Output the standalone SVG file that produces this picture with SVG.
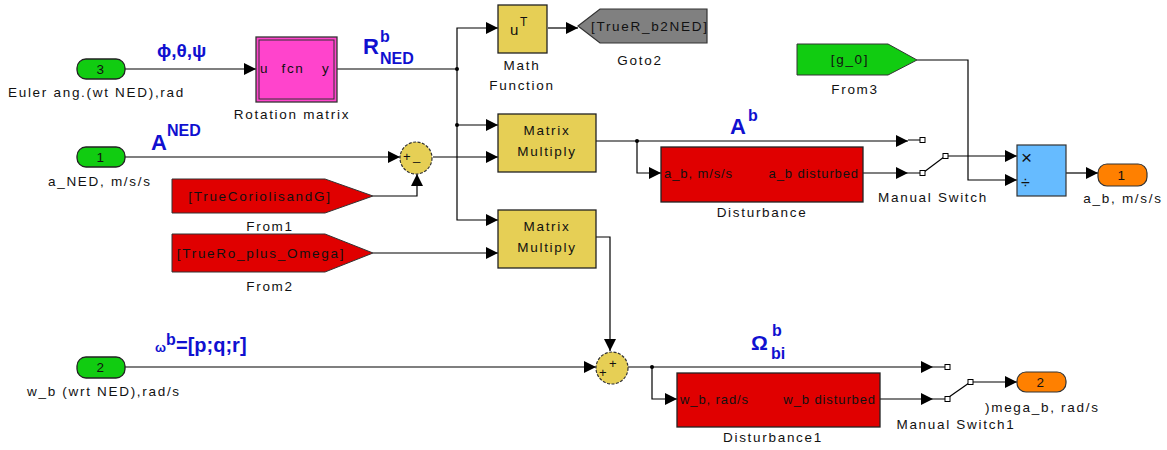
<svg xmlns="http://www.w3.org/2000/svg" width="1167" height="450" viewBox="0 0 1167 450">
<style>
.t{font-family:"Liberation Sans",Arial,sans-serif;font-size:13.5px;letter-spacing:1.7px;fill:#111}
.c{text-anchor:middle}
.b{font-family:"Liberation Sans",Arial,sans-serif;font-weight:bold;fill:#1010d0}
.w{fill:none;stroke:#000;stroke-width:1.2}
.blk{stroke:#222;stroke-width:1.3}
.y{fill:#e6cf55}
.r{fill:#e00000}
.g{fill:#11cc11}
.sum{fill:#e6cf55;stroke:#333;stroke-width:1.2;stroke-dasharray:3 1.5}
.sq{fill:#fff;stroke:#000;stroke-width:1}
.s{font-family:"Liberation Sans",Arial,sans-serif;font-size:13px;letter-spacing:0.9px;fill:#111}
</style>
<defs>
<marker id="a" markerUnits="userSpaceOnUse" markerWidth="13" markerHeight="12" refX="12" refY="6" orient="auto">
<path d="M0,0 L12,6 L0,12 z" fill="#000"/>
</marker>
</defs>
<rect width="1167" height="450" fill="#fff"/>

<g id="connectors">
<path class="w" d="M125,69 H256" marker-end="url(#a)"/>
<path class="w" d="M337,69 H457 V28 H498" marker-end="url(#a)"/>
<path class="w" d="M457,69 V220 H498" marker-end="url(#a)"/>
<path class="w" d="M457,125 H498" marker-end="url(#a)"/>
<circle cx="457" cy="69" r="2" fill="#000"/>
<circle cx="457" cy="125" r="2" fill="#000"/>
<path class="w" d="M548,28 H578" marker-end="url(#a)"/>
<path class="w" d="M125,157 H400" marker-end="url(#a)"/>
<path class="w" d="M433,157 H498" marker-end="url(#a)"/>
<path class="w" d="M373,196 H417 V174" marker-end="url(#a)"/>
<path class="w" d="M373,253 H498" marker-end="url(#a)"/>
<path class="w" d="M596,141 H908" marker-end="url(#a)"/>
<path class="w" d="M637,141 V173 H661" marker-end="url(#a)"/>
<circle cx="637" cy="141" r="2" fill="#000"/>
<path class="w" d="M863,173 H908" marker-end="url(#a)"/>
<path class="w" d="M908,140 H920 M908,173 H920"/>
<path class="w" d="M924,172 L944,157"/>
<path class="w" d="M948,156 H1017" marker-end="url(#a)"/>
<path class="w" d="M917,60 H968 V180 H1017" marker-end="url(#a)"/>
<path class="w" d="M1066,173 H1098" marker-end="url(#a)"/>
<path class="w" d="M596,237 H610 V351" marker-end="url(#a)"/>
<path class="w" d="M125,367 H596" marker-end="url(#a)"/>
<path class="w" d="M628,367 H933" marker-end="url(#a)"/>
<path class="w" d="M652,367 V399 H677" marker-end="url(#a)"/>
<circle cx="652" cy="367" r="2" fill="#000"/>
<path class="w" d="M880,399 H933" marker-end="url(#a)"/>
<path class="w" d="M933,367 H945 M933,399 H945"/>
<path class="w" d="M949,397 L969,383"/>
<path class="w" d="M973,382 H1017" marker-end="url(#a)"/>
<rect class="sq" x="920" y="137.5" width="5" height="5"/>
<rect class="sq" x="920" y="170.5" width="5" height="5"/>
<rect class="sq" x="943" y="153.5" width="5" height="5"/>
<rect class="sq" x="945" y="364.5" width="5" height="5"/>
<rect class="sq" x="945" y="396.5" width="5" height="5"/>
<rect class="sq" x="968" y="379.5" width="5" height="5"/>
</g>

<g id="labels">
<text class="b" x="157" y="57" font-size="19">ϕ,θ,ψ</text>
<text class="b" x="363" y="54" font-size="22">R</text>
<text class="b" x="380" y="42" font-size="16">b</text>
<text class="b" x="380" y="64" font-size="16">NED</text>
<text class="b" x="151" y="150" font-size="22">A</text>
<text class="b" x="167" y="136" font-size="16">NED</text>
<text class="b" x="730" y="134" font-size="22">A</text>
<text class="b" x="748" y="121" font-size="16">b</text>
<text class="b" x="155" y="352" font-size="13">ω</text>
<text class="b" x="166" y="345" font-size="16">b</text>
<text class="b" x="176" y="352" font-size="20">=[p;q;r]</text>
<text class="b" x="751" y="350" font-size="21">Ω</text>
<text class="b" x="772" y="336" font-size="16">b</text>
<text class="b" x="771" y="359" font-size="16">bi</text>
</g>

<g id="in3">
<rect class="g blk" x="77" y="59" width="48" height="20" rx="9"/>
<text class="t c" x="101" y="74" letter-spacing="0">3</text>
<text class="t" x="8" y="97">Euler ang.(wt NED),rad</text>
</g>
<g id="in1">
<rect class="g blk" x="77" y="147" width="48" height="20" rx="9"/>
<text class="t c" x="101" y="162" letter-spacing="0">1</text>
<text class="t" x="48" y="186">a_NED, m/s/s</text>
</g>
<g id="in2">
<rect class="g blk" x="77" y="357" width="48" height="21" rx="9"/>
<text class="t c" x="101" y="372" letter-spacing="0">2</text>
<text class="t" x="27" y="396" letter-spacing="0.6">w_b  (wrt NED),rad/s</text>
</g>

<g id="rotation">
<rect x="256" y="37" width="81" height="65" fill="#ff44cc" stroke="#333" stroke-width="1.3"/>
<rect x="259" y="40" width="75" height="59" fill="none" stroke="#333" stroke-width="1"/>
<text class="t" x="260" y="73" letter-spacing="0">u</text>
<text class="t c" x="293" y="73" letter-spacing="0.5">fcn</text>
<text class="t" x="322" y="73" letter-spacing="0">y</text>
<text class="t c" x="292" y="119">Rotation matrix</text>
</g>

<g id="mathfn">
<rect class="y blk" x="498" y="5" width="49" height="48"/>
<text x="510" y="35" font-family="Liberation Sans,Arial,sans-serif" font-size="15" fill="#111">u</text>
<text x="520" y="26" font-family="Liberation Sans,Arial,sans-serif" font-size="12" fill="#111">T</text>
<text class="t c" x="522" y="70">Math</text>
<text class="t c" x="522" y="90">Function</text>
</g>

<g id="goto2">
<path d="M578,26 L600,9 H707 V43 H600 Z" fill="#808080" stroke="#333" stroke-width="1.2"/>
<text class="t" x="591" y="31" letter-spacing="1.3">[TrueR_b2NED]</text>
<text class="t c" x="640" y="65">Goto2</text>
</g>

<g id="sum1">
<circle class="sum" cx="416" cy="158" r="16"/>
<text x="403" y="161" font-family="Liberation Sans,Arial,sans-serif" font-size="13" fill="#111">+</text>
<text x="413" y="160" font-family="Liberation Sans,Arial,sans-serif" font-size="13" fill="#111">_</text>
</g>

<g id="from1">
<path class="r" d="M172,179 H325 L373,196 L325,213 H172 Z" stroke="#333" stroke-width="1"/>
<text class="t c" x="260" y="201" fill="#300">[TrueCoriolisandG]</text>
<text class="t c" x="270" y="231">From1</text>
</g>
<g id="from2">
<path class="r" d="M172,234 H325 L373,253 L325,272 H172 Z" stroke="#333" stroke-width="1"/>
<text class="t c" x="261" y="258" fill="#300">[TrueRo_plus_Omega]</text>
<text class="t c" x="270" y="291">From2</text>
</g>

<g id="mm1">
<rect class="y blk" x="498" y="114" width="98" height="58"/>
<text class="t c" x="547" y="135" font-size="14">Matrix</text>
<text class="t c" x="547" y="156" font-size="14">Multiply</text>
</g>
<g id="mm2">
<rect class="y blk" x="498" y="210" width="98" height="58"/>
<text class="t c" x="547" y="231" font-size="14">Matrix</text>
<text class="t c" x="547" y="252" font-size="14">Multiply</text>
</g>

<g id="disturbance">
<rect class="r blk" x="661" y="147" width="202" height="55"/>
<text class="s" x="664" y="178">a_b, m/s/s</text>
<text class="s" x="859" y="178" text-anchor="end">a_b disturbed</text>
<text class="t c" x="762" y="217">Disturbance</text>
</g>

<g id="switch1">
<text class="t c" x="933" y="202">Manual Switch</text>
</g>

<g id="from3">
<path class="g" d="M797,44 H888 L917,60 L888,75 H797 Z" stroke="#333" stroke-width="1"/>
<text class="t c" x="850" y="64">[g_0]</text>
<text class="t c" x="855" y="94">From3</text>
</g>

<g id="product">
<rect x="1017" y="145" width="49" height="51" fill="#66bbff" stroke="#333" stroke-width="1.2"/>
<text x="1021" y="164" font-family="Liberation Sans,Arial,sans-serif" font-size="19" fill="#111">×</text>
<text x="1021" y="188" font-family="Liberation Sans,Arial,sans-serif" font-size="16" fill="#111">÷</text>
</g>

<g id="out1">
<rect x="1098" y="164" width="49" height="22" rx="9" fill="#ff8000" stroke="#333" stroke-width="1.2"/>
<text class="t c" x="1122" y="180" letter-spacing="0">1</text>
<text class="t c" x="1123" y="203" letter-spacing="1.2">a_b, m/s/s</text>
</g>

<g id="sum2">
<circle class="sum" cx="612" cy="368" r="16"/>
<text x="609" y="368" font-family="Liberation Sans,Arial,sans-serif" font-size="13" fill="#111">+</text>
<text x="599" y="377" font-family="Liberation Sans,Arial,sans-serif" font-size="13" fill="#111">+</text>
</g>

<g id="disturbance1">
<rect class="r blk" x="677" y="373" width="203" height="54"/>
<text class="s" x="680" y="404">w_b, rad/s</text>
<text class="s" x="876" y="404" text-anchor="end">w_b disturbed</text>
<text class="t c" x="773" y="442">Disturbance1</text>
</g>

<g id="switch2">
<text class="t c" x="956" y="429">Manual Switch1</text>
</g>

<g id="out2">
<rect x="1017" y="372" width="49" height="20" rx="9" fill="#ff8000" stroke="#333" stroke-width="1.2"/>
<text class="t c" x="1041" y="387" letter-spacing="0">2</text>
<text class="t" x="985" y="412" letter-spacing="1.2">)mega_b, rad/s</text>
</g>
</svg>
